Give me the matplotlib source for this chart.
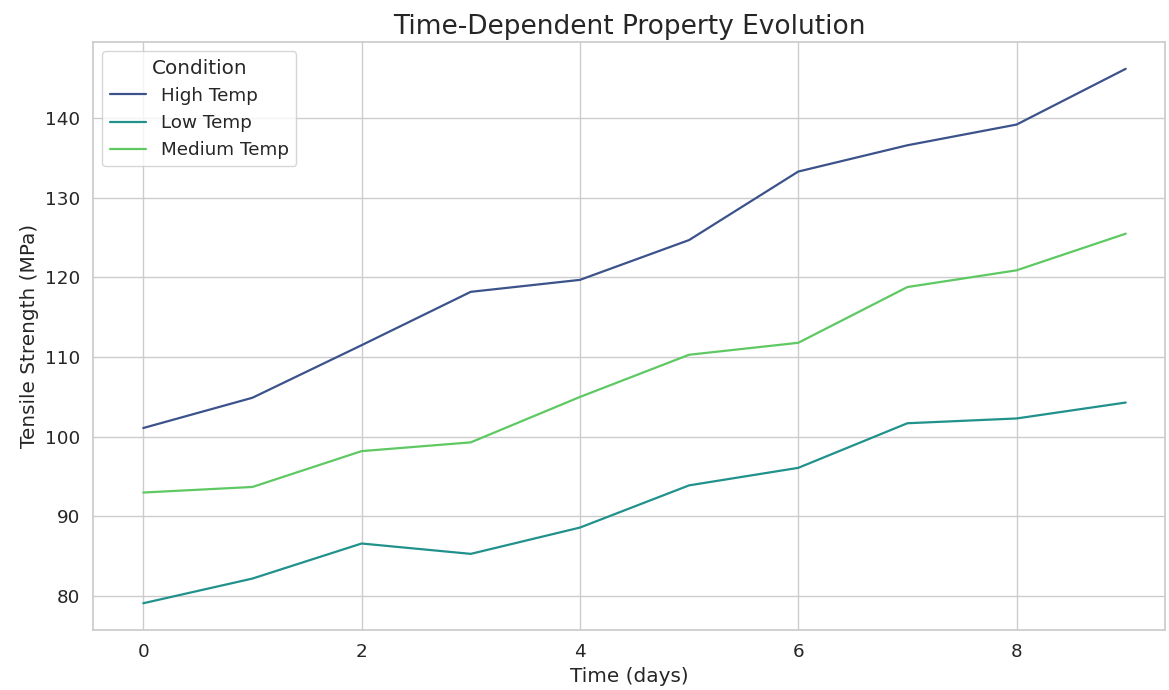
import matplotlib
matplotlib.use("Agg")
import matplotlib.pyplot as plt
import seaborn as sns

days = [0, 1, 2, 3, 4, 5, 6, 7, 8, 9]
high_temp = [101.1, 104.9, 111.5, 118.2, 119.7, 124.7, 133.3, 136.6, 139.2, 146.2]
low_temp = [79.1, 82.2, 86.6, 85.3, 88.6, 93.9, 96.1, 101.7, 102.3, 104.3]
medium_temp = [93.0, 93.7, 98.2, 99.3, 105.0, 110.3, 111.8, 118.8, 120.9, 125.5]
conditions = ["High Temp", "Low Temp", "Medium Temp"]

sns.set_theme(style="whitegrid", font_scale=1.2)
colors = sns.color_palette("viridis", 3)

fig, ax = plt.subplots(figsize=(11.69, 6.9), dpi=100)
for name, vals, c in zip(conditions, [high_temp, low_temp, medium_temp], colors):
    ax.plot(days, vals, color=c, linewidth=1.6, label=name)

ax.set_xlim(-0.46, 9.36)
ax.set_title("Time-Dependent Property Evolution", fontsize=19)
ax.set_xlabel("Time (days)", fontsize=14.4)
ax.set_ylabel("Tensile Strength (MPa)", fontsize=14.4)
ax.legend(title="Condition", loc="upper left")
fig.subplots_adjust(left=0.0796, right=0.9966, top=0.939, bottom=0.087)
fig.savefig("out.png", dpi=100)
